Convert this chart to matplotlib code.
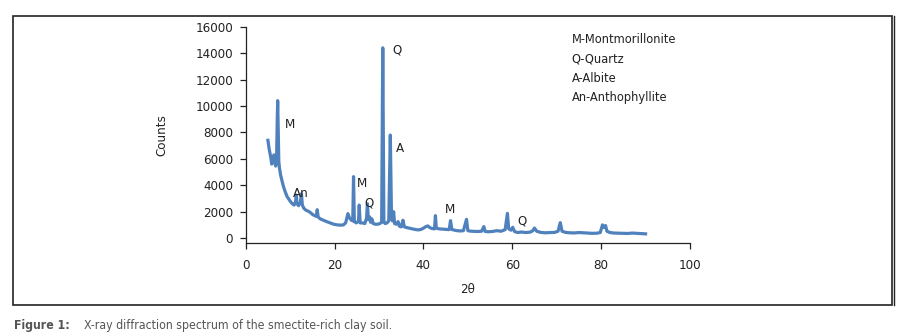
import matplotlib
matplotlib.use("Agg")
import matplotlib.pyplot as plt
from matplotlib.patches import Rectangle
from matplotlib.lines import Line2D

plt.rcParams['font.family'] = ['DejaVu Sans']
plt.rcParams['font.stretch'] = 'condensed'

two_theta = [5.0, 5.3, 5.6, 5.85, 6.1, 6.35, 6.55, 6.75, 6.95, 7.1, 7.2, 7.3, 7.45, 7.6, 7.9,
             8.2, 8.5, 8.9, 9.3, 9.7, 10.1, 10.5, 10.9, 11.2, 11.4, 11.55, 11.9, 12.3, 12.55,
             12.75, 13.1, 13.6, 14.0, 14.5, 15.0, 15.5, 15.9, 16.1, 16.3, 16.8, 17.5, 18.2,
             19.0, 19.8, 20.6, 21.4, 22.0, 22.5, 23.0, 23.4, 23.8, 24.1, 24.27, 24.45, 24.9,
             25.4, 25.55, 25.75, 26.3, 26.8, 27.2, 27.4, 27.6, 27.9, 28.1, 28.4, 28.7, 29.2,
             29.7, 30.2, 30.6, 30.85, 31.1, 31.4, 31.8, 32.2, 32.55, 32.8, 33.0, 33.3, 33.5,
             33.9, 34.3, 34.6, 35.0, 35.4, 35.7, 36.2, 36.8, 37.5, 38.2, 38.8, 39.4, 40.0,
             40.6, 41.0, 41.5, 42.0, 42.5, 42.7, 42.9, 43.5, 44.2, 45.0, 45.8, 46.1, 46.4,
             47.0, 47.6, 48.3, 49.0, 49.7, 50.0, 50.7, 51.5, 52.3, 53.1, 53.6, 53.9, 54.6,
             55.5, 56.5, 57.5, 58.4, 58.9, 59.2, 59.7, 60.1, 60.5, 61.2, 62.0, 63.0, 64.0,
             64.6, 65.0, 65.5, 66.4, 67.5, 68.5, 69.5, 70.3, 70.8, 71.2, 72.0, 73.0, 74.0,
             75.0, 76.0, 77.0, 78.0, 79.0, 79.8, 80.3, 80.6, 81.0, 81.3, 82.0, 83.0, 84.0,
             85.0, 86.0, 87.0, 88.0, 89.0, 90.0]
counts = [7400, 6700, 6200, 5600, 5800, 6300, 5700, 5450, 6000, 9000, 10400, 8500, 5800, 5300, 4700,
          4300, 3900, 3500, 3150, 2950, 2750, 2600, 2500, 2700, 3250, 2600, 2450, 2700, 3350,
          2500, 2250, 2100, 2050, 1950, 1800, 1700, 1650, 2150, 1600, 1450, 1350, 1250,
          1150, 1050, 1000, 980, 1000, 1150, 1850, 1500, 1350, 1300, 4650, 1250, 1150,
          1300, 2500, 1150, 1150, 1100, 1500, 2600, 1400, 1600, 1200, 1450, 1100, 1050,
          1050, 1100, 1200, 14400, 1200, 1100, 1150, 1300, 7800, 1900, 1300, 2000, 1100,
          1050, 1250, 900, 850, 1350, 850, 800, 750, 700, 650, 620, 650, 750,
          880, 920, 780, 720, 700, 1700, 750, 700, 680, 650, 640, 1320, 650,
          600, 560, 540, 560, 1420, 560, 520, 510, 500, 520, 870, 500, 480,
          500, 560, 520, 640, 1870, 700, 600, 820, 500, 420, 460, 420, 450,
          550, 760, 520, 430, 400, 420, 430, 520, 1170, 520, 430, 400, 390,
          420, 400, 380, 360, 370, 420, 1000, 800, 950, 520, 420, 380, 370,
          360, 350, 380, 360, 340, 320]

peak_labels = ["M", "Q", "A", "M", "Q", "An", "M", "Q"]
peak_x = [9.95, 34.0, 34.8, 26.2, 27.7, 12.36, 46.07, 62.16]
peak_y = [8560, 14240, 6750, 4150, 2630, 3390, 2180, 1320]

legend_lines = ["M-Montmorillonite", "Q-Quartz", "A-Albite", "An-Anthophyllite"]

x_ticks = [0, 20, 40, 60, 80, 100]
y_ticks = [0, 2000, 4000, 6000, 8000, 10000, 12000, 14000, 16000]

W, H = 903, 336
fig = plt.figure(figsize=(W / 100, H / 100), dpi=100)

def fx(px):
    return px / W

def fy(py):
    return 1 - py / H

# outer frame
fig.patches.append(Rectangle((fx(13), fy(305)), fx(892) - fx(13), fy(16) - fy(305),
                             transform=fig.transFigure, fill=False, edgecolor='#222222', lw=1.2))
fig.lines.append(Line2D([fx(894), fx(894)], [fy(305), fy(16)], transform=fig.transFigure,
                        color='#222222', lw=1.0))

ax = fig.add_axes([fx(245.7), fy(243.3), fx(690) - fx(245.7), fy(26.7) - fy(243.3)])
ax.plot(two_theta, counts, color='#4F81BD', lw=2.3, solid_joinstyle='round')

ax.set_xlim(0, 100)
ax.set_ylim(-394, 16000)
ax.set_xticks(x_ticks)
ax.set_yticks(y_ticks)
for s in ['top', 'right']:
    ax.spines[s].set_visible(False)
ax.spines['left'].set_bounds(-394, 16000)
for s in ['left', 'bottom']:
    ax.spines[s].set_color('#222222')
    ax.spines[s].set_linewidth(0.9)
ax.tick_params(axis='both', direction='out', length=4.5, width=0.9, color='#222222',
               labelsize=9.5, labelcolor='#222222')
ax.tick_params(axis='y', pad=4.5)
ax.tick_params(axis='x', pad=7)
ax.set_facecolor('none')

ax.set_ylabel("Counts", fontsize=9.5, color='#222222')
ax.yaxis.set_label_coords(-0.175, 0.5)
ax.set_xlabel("2θ", fontsize=9.5, color='#222222')
ax.xaxis.set_label_coords(0.5, -0.185)

for lab, x, y in zip(peak_labels, peak_x, peak_y):
    ax.text(x, y, lab, ha='center', va='center', fontsize=9.5, color='#222222')

for i, t in enumerate(legend_lines):
    fig.text(fx(571.7), fy(39.3 + 19.35 * i), t, ha='left', va='center', fontsize=9.2, color='#222222')

fig.text(fx(14), fy(325), "Figure 1:", ha='left', va='center', fontsize=8.8,
         fontweight='bold', color='#555555')
fig.text(fx(84), fy(325), "X-ray diffraction spectrum of the smectite-rich clay soil.",
         ha='left', va='center', fontsize=8.8, color='#555555')

fig.savefig("out.png", dpi=100)
